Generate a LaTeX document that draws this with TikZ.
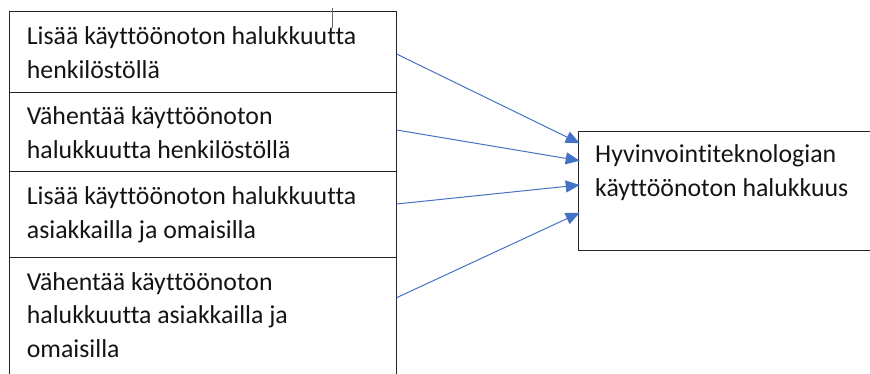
\documentclass[tikz,border=0pt]{standalone}
\usepackage{fontspec}
\setmainfont{Carlito}[Ligatures=NoCommon]
\usetikzlibrary{arrows.meta}
\definecolor{arrblue}{RGB}{68,114,196}
\begin{document}
\begin{tikzpicture}[x=1pt, y=-1pt,
    box/.style={draw=black!85, line width=1.1pt, inner sep=0pt, anchor=north west},
    txt/.style={anchor=base west, align=left, inner sep=0pt, font=\fontsize{25.8}{33.7}\selectfont, text=black!92},
    arr/.style={draw=arrblue, line width=1pt, -{Triangle[length=14pt,width=12pt]}}]
      \useasboundingbox (0,0) rectangle (870,374);
      \clip (0,0) rectangle (870,374);

      \node[box, minimum width=387pt, minimum height=81pt] (b1) at (8.5,10.7) {};
      \node[box, minimum width=387pt, minimum height=79pt] (b2) at (8.5,91.7) {};
      \node[box, minimum width=387pt, minimum height=86pt] (b3) at (8.5,170.7) {};
      \node[box, minimum width=387pt, minimum height=130pt] (b4) at (8.5,256.7) {};
      \node[box, minimum width=310pt, minimum height=119.3pt] (res) at (577.7,130.7) {};

      % base of a multi-line node is its last line
      \node[txt] (t1) at (26.7,78.7) {Lisää käyttöönoton halukkuutta\\henkilöstöllä};
      \node[txt] (t2) at (26.7,158.7) {Vähentää käyttöönoton\\halukkuutta henkilöstöllä};
      \node[txt] (t3) at (26.7,238.7) {Lisää käyttöönoton halukkuutta\\asiakkailla ja omaisilla};
      \node[txt] (t4) at (26.7,357.4) {Vähentää käyttöönoton\\halukkuutta asiakkailla ja\\omaisilla};
      \node[txt] (tr) at (595,196.7) {Hyvinvointiteknologian\\käyttöönoton halukkuus};

      \coordinate (in1) at ([xshift=2pt,yshift=-12.6pt]res.north west);
      \coordinate (in2) at ([xshift=2pt,yshift=-30pt]res.north west);
      \coordinate (in3) at ([xshift=2pt,yshift=-54.3pt]res.north west);
      \coordinate (in4) at ([xshift=2pt,yshift=-82pt]res.north west);

      \draw[arr] ([yshift=-43.3pt]b1.north east) -- (in1);
      \draw[arr] ([yshift=-38.3pt]b2.north east) -- (in2);
      \draw[arr] ([yshift=-33.3pt]b3.north east) -- (in3);
      \draw[arr] ([yshift=-41pt]b4.north east) -- (in4);

      \draw[black!60, line width=0.8pt] (332,8) -- (332,28);
    \end{tikzpicture}
\end{document}
